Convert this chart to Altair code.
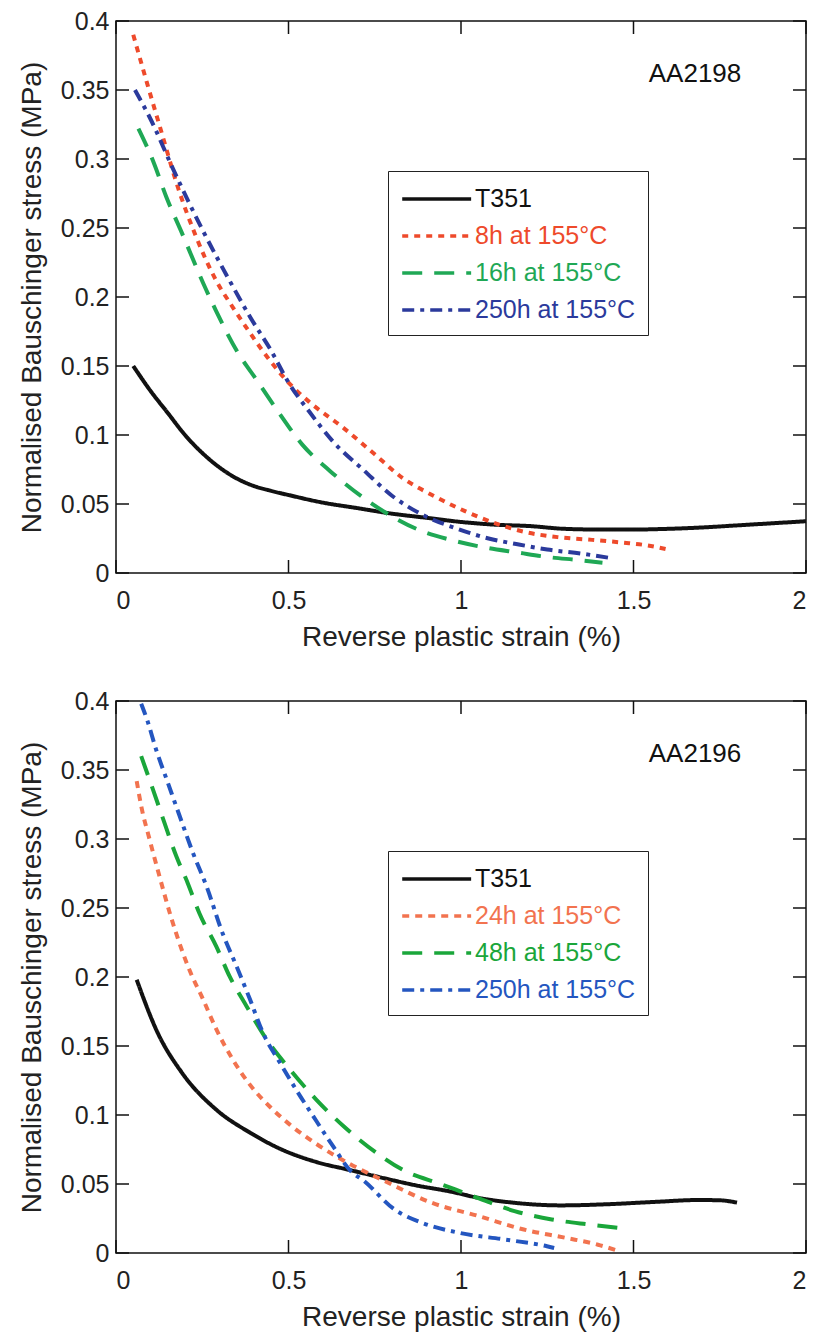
import altair as alt
import pandas as pd

FONT = "Liberation Sans"

# ---------------- Top panel (AA2198) ----------------
top_label = "AA2198"
top_series = ["T351", "8h at 155°C", "16h at 155°C", "250h at 155°C"]
top_colors = ["#111111", "#ee4a2b", "#1fa855", "#2b3a9c"]
top_dashes = [[1, 0], [6, 6], [20, 12], [12, 6, 4, 6]]

top_t351_x = [0.05, 0.1, 0.15, 0.2, 0.25, 0.3, 0.35, 0.4, 0.45, 0.5, 0.6, 0.7, 0.8, 0.9, 1.0,
              1.1, 1.2, 1.3, 1.4, 1.5, 1.6, 1.7, 1.8, 1.9, 2.0]
top_t351_y = [0.150, 0.132, 0.116, 0.100, 0.087, 0.0765, 0.0685, 0.063, 0.0595, 0.0565, 0.051,
              0.047, 0.043, 0.040, 0.037, 0.035, 0.034, 0.032, 0.0315, 0.0315, 0.032, 0.033,
              0.0345, 0.036, 0.0375]

top_8h_x = [0.05, 0.09, 0.13, 0.18, 0.23, 0.29, 0.34, 0.38, 0.44, 0.5, 0.56, 0.66, 0.75, 0.83,
            0.92, 1.01, 1.1, 1.18, 1.28, 1.38, 1.47, 1.54, 1.6]
top_8h_y = [0.390, 0.355, 0.321, 0.279, 0.245, 0.212, 0.192, 0.177, 0.156, 0.138, 0.124, 0.105,
            0.086, 0.069, 0.056, 0.045, 0.036, 0.030, 0.026, 0.024, 0.022, 0.020, 0.017]

top_16h_x = [0.065, 0.11, 0.145, 0.19, 0.26, 0.29, 0.35, 0.41, 0.47, 0.54, 0.62, 0.72, 0.8,
             0.89, 0.97, 1.08, 1.16, 1.25, 1.34, 1.41]
top_16h_y = [0.322, 0.297, 0.273, 0.247, 0.206, 0.190, 0.161, 0.139, 0.117, 0.093, 0.074,
             0.054, 0.041, 0.030, 0.024, 0.018, 0.015, 0.0116, 0.0094, 0.0075]

top_250h_x = [0.055, 0.1, 0.165, 0.25, 0.34, 0.39, 0.45, 0.5, 0.56, 0.63, 0.72, 0.8, 0.89,
              0.99, 1.08, 1.16, 1.25, 1.35, 1.43]
top_250h_y = [0.350, 0.329, 0.293, 0.249, 0.207, 0.185, 0.161, 0.138, 0.117, 0.095, 0.074,
              0.056, 0.042, 0.032, 0.025, 0.021, 0.017, 0.014, 0.011]

# ---------------- Bottom panel (AA2196) ----------------
bot_label = "AA2196"
bot_series = ["T351", "24h at 155°C", "48h at 155°C", "250h at 155°C"]
bot_colors = ["#111111", "#f2734f", "#1aa63a", "#2456c0"]
bot_dashes = [[1, 0], [7, 6], [20, 12], [12, 6, 4, 6]]

bot_t351_x = [0.06, 0.12, 0.19, 0.29, 0.39, 0.48, 0.58, 0.68, 0.78, 0.87, 0.97, 1.05, 1.15,
              1.29, 1.42, 1.56, 1.69, 1.75, 1.8]
bot_t351_y = [0.198, 0.160, 0.131, 0.104, 0.087, 0.075, 0.066, 0.060, 0.054, 0.049, 0.0445,
              0.040, 0.0365, 0.0345, 0.0353, 0.037, 0.0384, 0.0382, 0.0365]

bot_24h_x = [0.06, 0.073, 0.097, 0.126, 0.16, 0.213, 0.252, 0.291, 0.339, 0.388, 0.446, 0.504,
             0.581, 0.678, 0.78, 0.914, 1.048, 1.182, 1.303, 1.397, 1.45]
bot_24h_y = [0.342, 0.324, 0.300, 0.273, 0.243, 0.205, 0.184, 0.162, 0.140, 0.122, 0.106,
             0.093, 0.079, 0.0645, 0.052, 0.0365, 0.027, 0.017, 0.011, 0.006, 0.002]

bot_48h_x = [0.073, 0.107, 0.14, 0.174, 0.208, 0.242, 0.291, 0.329, 0.378, 0.436, 0.504,
             0.581, 0.659, 0.756, 0.833, 0.941, 1.048, 1.155, 1.263, 1.37, 1.457]
bot_48h_y = [0.360, 0.336, 0.312, 0.288, 0.268, 0.246, 0.222, 0.2006, 0.179, 0.155, 0.133,
             0.111, 0.092, 0.0724, 0.060, 0.050, 0.040, 0.0304, 0.0243, 0.0207, 0.0182]

bot_250h_x = [0.073, 0.092, 0.116, 0.15, 0.184, 0.223, 0.262, 0.31, 0.349, 0.388, 0.426,
              0.475, 0.523, 0.572, 0.63, 0.678, 0.72, 0.807, 0.887, 0.995, 1.129, 1.249, 1.27]
bot_250h_y = [0.398, 0.385, 0.365, 0.341, 0.317, 0.290, 0.266, 0.231, 0.208, 0.184, 0.1595,
              0.138, 0.118, 0.099, 0.077, 0.060, 0.052, 0.0316, 0.0219, 0.0146, 0.0097,
              0.0049, 0.0036]

x_ticks = [0, 0.5, 1, 1.5, 2]
y_ticks = [0, 0.05, 0.1, 0.15, 0.2, 0.25, 0.3, 0.35, 0.4]
x_title = "Reverse plastic strain (%)"
y_title = "Normalised Bauschinger stress (MPa)"

W, H = 690, 552
TICK = 13

X_AXIS = alt.Axis(
    title=x_title, values=x_ticks, format="~g", ticks=False, domain=False,
    grid=False, labelPadding=15, titlePadding=10, labelFontSize=25,
    titleFontSize=28, labelFont=FONT, titleFont=FONT, labelColor="#222",
    titleColor="#222", titleFontWeight="normal")
Y_AXIS = alt.Axis(
    title=y_title, values=y_ticks, format="~g", ticks=False, domain=False,
    grid=False, labelPadding=7, titlePadding=14, labelFontSize=25,
    titleFontSize=28, labelFont=FONT, titleFont=FONT, labelColor="#222",
    titleColor="#222", titleFontWeight="normal")


def frame(series, xs_list, ys_list):
    rows = []
    for s, xs, ys in zip(series, xs_list, ys_list):
        for i, (a, b) in enumerate(zip(xs, ys)):
            rows.append({"x": a, "y": b, "series": s, "i": i})
    return pd.DataFrame(rows)


def panel(df, series, colors, dashes, label):
    xs = alt.Scale(domain=[0, 2], nice=False, zero=False)
    ys = alt.Scale(domain=[0, 0.4], nice=False, zero=False)
    color_expr = " : ".join(
        f"datum.value == '{s}' ? '{c}'" for s, c in zip(series, colors)
    ) + " : '#111'"
    leg = alt.Legend(
        orient="none", legendX=272, legendY=150, title=None,
        strokeColor="#222", fillColor="white", padding=12, cornerRadius=0,
        symbolType="M-1,0L4,0", symbolSize=760, symbolStrokeWidth=3.5,
        labelFont=FONT, labelFontSize=25, labelOffset=43, rowPadding=8,
        labelLimit=400, labelColor=alt.ExprRef(expr=color_expr),
    )
    lines = alt.Chart(df).mark_line(strokeWidth=4, interpolate="monotone").encode(
        x=alt.X("x:Q", scale=xs, axis=X_AXIS),
        y=alt.Y("y:Q", scale=ys, axis=Y_AXIS),
        color=alt.Color("series:N", scale=alt.Scale(domain=series, range=colors),
                        sort=series, legend=leg),
        strokeDash=alt.StrokeDash("series:N", scale=alt.Scale(domain=series, range=dashes),
                                  sort=series, legend=leg),
        detail="series:N",
    )
    xt = alt.Chart(pd.DataFrame({"x": x_ticks}))
    yt = alt.Chart(pd.DataFrame({"y": y_ticks}))
    rule = dict(color="#111", strokeWidth=1.5)
    t_bottom = xt.mark_rule(**rule).encode(
        x=alt.X("x:Q", scale=xs, axis=X_AXIS), y=alt.value(H - TICK), y2=alt.value(H))
    t_top = xt.mark_rule(**rule).encode(
        x=alt.X("x:Q", scale=xs, axis=X_AXIS), y=alt.value(0), y2=alt.value(TICK))
    t_left = yt.mark_rule(**rule).encode(
        y=alt.Y("y:Q", scale=ys, axis=Y_AXIS), x=alt.value(0), x2=alt.value(TICK))
    t_right = yt.mark_rule(**rule).encode(
        y=alt.Y("y:Q", scale=ys, axis=Y_AXIS), x=alt.value(W - TICK), x2=alt.value(W))
    note = alt.Chart(pd.DataFrame({"t": [label]})).mark_text(
        font=FONT, fontSize=26, color="#111", align="center", baseline="middle"
    ).encode(text="t:N", x=alt.value(579), y=alt.value(53))
    return alt.layer(lines, t_bottom, t_top, t_left, t_right, note).properties(
        width=W, height=H)


top_df = frame(top_series, [top_t351_x, top_8h_x, top_16h_x, top_250h_x],
               [top_t351_y, top_8h_y, top_16h_y, top_250h_y])
bot_df = frame(bot_series, [bot_t351_x, bot_24h_x, bot_48h_x, bot_250h_x],
               [bot_t351_y, bot_24h_y, bot_48h_y, bot_250h_y])

top = panel(top_df, top_series, top_colors, top_dashes, top_label)
bot = panel(bot_df, bot_series, bot_colors, bot_dashes, bot_label)

chart = alt.vconcat(top, bot, spacing=36).resolve_scale(
    color="independent", strokeDash="independent"
).properties(
    padding={"left": 9, "top": 0, "right": 0, "bottom": 0}
).configure_view(stroke="#111", strokeWidth=1.5)

chart.save("out.html", embed_options={"renderer": "svg", "actions": False})
